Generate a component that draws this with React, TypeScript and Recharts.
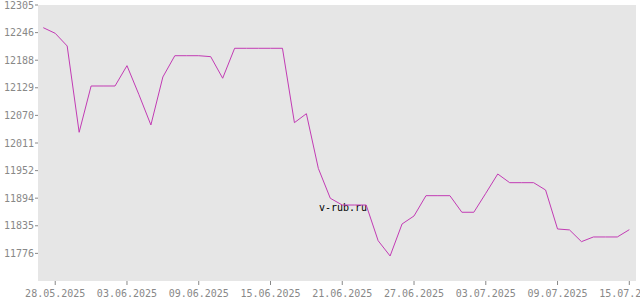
import React from "react";
import { LineChart, Line, XAxis, YAxis, CartesianGrid, Customized } from "recharts";

// daily rate, 27.05.2025 .. 15.07.2025
const rates = [
  12256.7, 12244.7, 12217.7, 12033.9, 12132.5, 12132.5, 12132.5, 12175.8, 12114, 12049.5,
  12151.7, 12197, 12197, 12197, 12195, 12149, 12212.8, 12212.8, 12212.8, 12212.8,
  12212.8, 12054.4, 12073.5, 11957, 11893.4, 11879, 11879, 11879, 11803, 11770.5,
  11838.6, 11855.7, 11898.9, 11898.9, 11898.9, 11863.6, 11863.6, 11904, 11945.1, 11926.6,
  11926.6, 11926.6, 11911, 11828, 11826, 11801, 11811, 11811, 11811, 11826.5,
];

const xTicks = [1, 7, 13, 19, 25, 31, 37, 43, 49];
const xLabels = [
  "28.05.2025", "03.06.2025", "09.06.2025", "15.06.2025", "21.06.2025",
  "27.06.2025", "03.07.2025", "09.07.2025", "15.07.2025",
];

const yTicks = [12305, 12246.2, 12187.4, 12128.7, 12069.9, 12011.1, 11952.3, 11893.6, 11834.8, 11776];
const yLabels = ["12305", "12246", "12188", "12129", "12070", "12011", "11952", "11894", "11835", "11776"];

const data = rates.map((rate, i) => ({ i, rate }));

const tickStyle = { fontFamily: "DejaVu Sans Mono", fontSize: 10, fill: "#888888" };

const Watermark = () => (
  <text x={343} y={211} textAnchor="middle" fontFamily="DejaVu Sans Mono" fontSize={10} fill="#000">
    v-rub.ru
  </text>
);

export default function App() {
  return (
    <div style={{ position: "absolute", left: 0, top: 0, width: 640, height: 300, background: "#fff" }}>
      <LineChart width={640} height={300} data={data} margin={{ top: 5, right: 4, left: 0, bottom: 0 }}>
        <CartesianGrid fill="#e6e6e6" stroke="none" horizontal={false} vertical={false} />
        <XAxis
          type="number"
          dataKey="i"
          domain={[-0.44, 49.56]}
          ticks={xTicks}
          interval={0}
          height={19}
          tickSize={4}
          tickMargin={5}
          axisLine={false}
          tickLine={{ stroke: "#888888" }}
          tick={tickStyle}
          tickFormatter={(v: number) => xLabels[xTicks.indexOf(v)] ?? ""}
        />
        <YAxis
          type="number"
          domain={[11717.2, 12305]}
          ticks={yTicks}
          interval={0}
          width={38}
          tickSize={3}
          tickMargin={1}
          axisLine={false}
          tickLine={{ stroke: "#888888" }}
          tick={tickStyle}
          tickFormatter={(v: number) => yLabels[yTicks.indexOf(v)] ?? ""}
        />
        <Line
          type="linear"
          dataKey="rate"
          stroke="#c23bb4"
          strokeWidth={1}
          dot={false}
          activeDot={false}
          isAnimationActive={false}
        />
        <Customized component={Watermark} />
      </LineChart>
    </div>
  );
}
